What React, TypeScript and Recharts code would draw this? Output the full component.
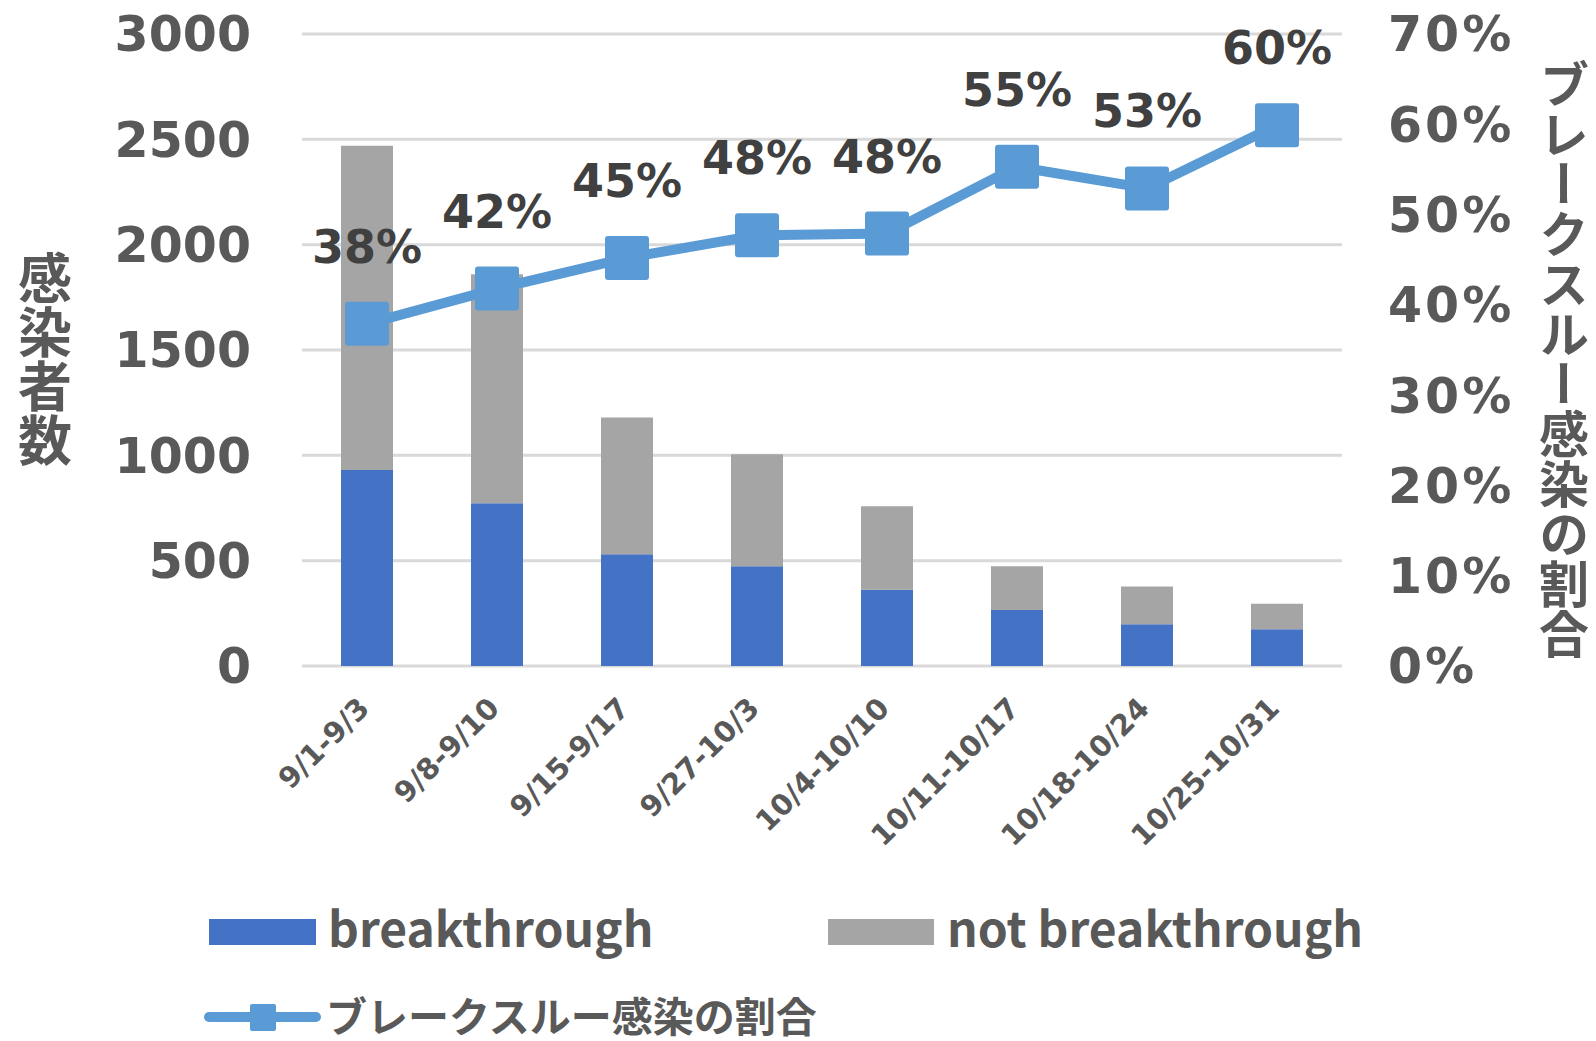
import { Bar, CartesianGrid, ComposedChart, LabelList, Line, XAxis, YAxis } from "recharts";

const categories = [
  "9/1-9/3",
  "9/8-9/10",
  "9/15-9/17",
  "9/27-10/3",
  "10/4-10/10",
  "10/11-10/17",
  "10/18-10/24",
  "10/25-10/31",
];
const breakthrough = [930, 773, 531, 473, 362, 266, 198, 174];
const notBreakthrough = [1539, 1087, 648, 532, 396, 207, 179, 121];
const ratio = [0.379, 0.418, 0.452, 0.477, 0.479, 0.553, 0.529, 0.599];
const countTicks = [0, 500, 1000, 1500, 2000, 2500, 3000];
const ratioTicks = [0, 0.1, 0.2, 0.3, 0.4, 0.5, 0.6, 0.7];

const BLUE = "#4472C4";
const GRAY = "#A5A5A5";
const LINE = "#5B9BD5";
const TEXT = "#595959";
const LATIN = "'DejaVu Sans', Verdana, sans-serif";
const CJK = "'Noto Sans CJK JP', sans-serif";

const data = categories.map((name, i) => ({
  name,
  breakthrough: breakthrough[i],
  notBreakthrough: notBreakthrough[i],
  ratio: ratio[i],
}));

const pct = (v: number) => `${Math.round(v * 100)}%`;

function XTick({ x, y, payload }: { x?: number; y?: number; payload?: { value: string } }) {
  return (
    <g transform={`translate(${(x ?? 0) + 4},${(y ?? 0) + 36})`}>
      <text
        transform="rotate(-45)"
        textAnchor="end"
        fontSize={29}
        fontWeight={700}
        fill={TEXT}
        fontFamily={LATIN}
      >
        {payload?.value}
      </text>
    </g>
  );
}

function SquareDot({ cx, cy }: { cx?: number; cy?: number }) {
  if (cx == null || cy == null) return null;
  return <rect x={cx - 22} y={cy - 22} width={44} height={44} rx={3} fill={LINE} />;
}

function RatioLabel({ x, y, value }: { x?: number; y?: number; value?: number }) {
  if (x == null || y == null || value == null) return null;
  return (
    <text
      x={x}
      y={y - 77}
      textAnchor="middle"
      dominantBaseline="central"
      fontSize={46}
      fontWeight={700}
      fill="#404040"
      fontFamily={LATIN}
    >
      {pct(Number(value))}
    </text>
  );
}

export default function App() {
  return (
    <div style={{ position: "absolute", left: 0, top: 0, width: 1596, height: 1041, background: "#fff" }}>
      <ComposedChart width={1596} height={1041} data={data} margin={{ top: 34, right: 0, bottom: 0, left: 0 }}>
        <CartesianGrid vertical={false} stroke="#D9D9D9" strokeWidth={3} yAxisId="left" />
        <XAxis
          dataKey="name"
          height={375}
          axisLine={false}
          tickLine={false}
          interval={0}
          tick={<XTick />}
        />
        <YAxis
          yAxisId="left"
          orientation="left"
          width={302}
          domain={[0, 3000]}
          ticks={countTicks}
          axisLine={false}
          tickLine={false}
          tickSize={0}
          tickMargin={51}
          tick={{ fontSize: 49, fontWeight: 700, fill: TEXT, fontFamily: LATIN }}
        />
        <YAxis
          yAxisId="right"
          orientation="right"
          width={254}
          domain={[0, 0.7]}
          ticks={ratioTicks}
          tickFormatter={pct}
          axisLine={false}
          tickLine={false}
          tickSize={0}
          tickMargin={46}
          tick={{ fontSize: 49, fontWeight: 700, fill: TEXT, fontFamily: LATIN, letterSpacing: 3 }}
        />
        <Bar yAxisId="left" dataKey="breakthrough" stackId="a" fill={BLUE} barSize={52} isAnimationActive={false} />
        <Bar yAxisId="left" dataKey="notBreakthrough" stackId="a" fill={GRAY} barSize={52} isAnimationActive={false} />
        <Line
          yAxisId="right"
          dataKey="ratio"
          stroke={LINE}
          strokeWidth={10}
          dot={<SquareDot />}
          activeDot={false}
          isAnimationActive={false}
        >
          <LabelList dataKey="ratio" content={<RatioLabel />} />
        </Line>
      </ComposedChart>
      <svg
        width={1596}
        height={1041}
        style={{ position: "absolute", left: 0, top: 0, pointerEvents: "none" }}
      >
        <text
          x={45}
          y={251}
          fontSize={54}
          fontWeight={700}
          fill={TEXT}
          fontFamily={CJK}
          style={{ writingMode: "vertical-rl", textOrientation: "upright" }}
        >
          感染者数
        </text>
        <text
          x={1564}
          y={59}
          fontSize={50}
          fontWeight={700}
          fill={TEXT}
          fontFamily={CJK}
          style={{ writingMode: "vertical-rl", textOrientation: "upright" }}
        >
          ブレークスルー感染の割合
        </text>
        {/* legend */}
        <rect x={209} y={919} width={107} height={26} fill={BLUE} />
        <text x={328} y={947} fontSize={48} fontWeight={700} fill={TEXT} fontFamily={CJK}>
          breakthrough
        </text>
        <rect x={828} y={919} width={106} height={26} fill={GRAY} />
        <text x={947} y={947} fontSize={48} fontWeight={700} fill={TEXT} fontFamily={CJK}>
          not breakthrough
        </text>
        <line x1={209} y1={1017} x2={316} y2={1017} stroke={LINE} strokeWidth={10} strokeLinecap="round" />
        <rect x={250} y={1004} width={26} height={27} rx={2} fill={LINE} />
        <text x={326} y={1032} fontSize={41} fontWeight={700} fill={TEXT} fontFamily={CJK}>
          ブレークスルー感染の割合
        </text>
      </svg>
    </div>
  );
}
